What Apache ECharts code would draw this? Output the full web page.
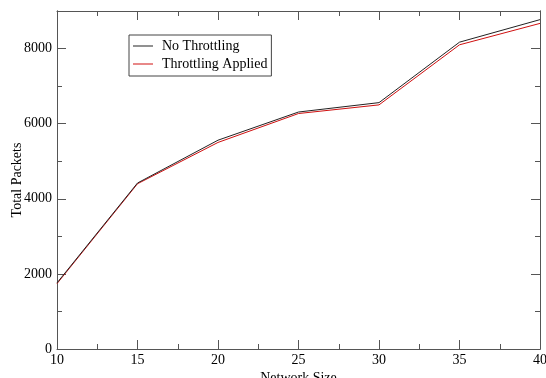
<!DOCTYPE html>
<html>
<head>
<meta charset="utf-8">
<script src="https://cdn.jsdelivr.net/npm/echarts@6/dist/echarts.min.js"></script>
<style>html,body{margin:0;padding:0;background:#fff}#c{width:546px;height:378px}</style>
</head>
<body>
<div id="c"></div>
<script>
var networkSize = [10, 15, 20, 25, 30, 35, 40];
var noThrottling = [1760, 4420, 5560, 6310, 6560, 8170, 8770];
var throttlingApplied = [1740, 4400, 5500, 6270, 6500, 8100, 8670];
var seriesNames = ['No Throttling', 'Throttling Applied'];

var font = 'Liberation Serif, Times New Roman, serif';
var axisCol = '#555';
function pairs(xs, ys){ return xs.map(function(x,i){ return [x, ys[i]]; }); }

function yAx(pos, interval, len, labels){
  return {
    type:'value', position:pos, offset:0, min:0, max:9000, interval:interval,
    axisLine:{show:true, onZero:false, lineStyle:{color:axisCol, width:1}},
    axisTick:{show:true, inside:true, length:len, lineStyle:{color:axisCol}},
    axisLabel: labels ? {show:true, margin:5, color:'#000', fontFamily:font, fontSize:14,
      formatter:function(v){ return v % 2000 === 0 ? String(v) : ''; }} : {show:false},
    splitLine:{show:false}
  };
}
function xAx(pos, labels){
  return {
    type:'value', position:pos, offset:0, min:10, max:40, interval:5,
    axisLine:{show:true, onZero:false, lineStyle:{color:axisCol, width:1}},
    axisTick:{show:true, inside:true, length:9, lineStyle:{color:axisCol}},
    minorTick:{show:true, splitNumber:2, length:5, lineStyle:{color:axisCol}},
    axisLabel: labels ? {show:true, margin:4, color:'#000', fontFamily:font, fontSize:14} : {show:false},
    splitLine:{show:false}, minorSplitLine:{show:false}
  };
}
var x0 = xAx('bottom', true);
x0.name = 'Network Size'; x0.nameLocation = 'middle'; x0.nameGap = 22; x0.nameMoveOverlap = false;
x0.nameTextStyle = {color:'#000', fontFamily:font, fontSize:14};
var y0 = yAx('left', 2000, 9, true);
y0.name = 'Total Packets'; y0.nameLocation = 'middle'; y0.nameGap = 33; y0.nameMoveOverlap = false;
y0.nameTextStyle = {color:'#000', fontFamily:font, fontSize:14};

var chart = echarts.init(document.getElementById('c'), null, {renderer:'canvas'});
chart.setOption({
  animation:false,
  backgroundColor:'#fff',
  grid:{left:57, right:6, top:11, bottom:29, containLabel:false, outerBoundsMode:'none'},
  legend:{
    left:129, top:35, orient:'vertical',
    data:seriesNames,
    icon:'rect', itemWidth:20, itemHeight:1, itemGap:4,
    padding:[4,4,5,4],
    borderColor:'#444', borderWidth:1, borderRadius:0,
    textStyle:{color:'#000', fontFamily:font, fontSize:14, padding:[0,0,0,4]}
  },
  xAxis:[x0, xAx('top', false)],
  yAxis:[y0, yAx('left',1000,5,false), yAx('right',2000,9,false), yAx('right',1000,5,false)],
  series:[
    {name:seriesNames[0], type:'line', xAxisIndex:0, yAxisIndex:0, data:pairs(networkSize,noThrottling),
     showSymbol:false, symbol:'none', lineStyle:{color:'#222', width:1}, itemStyle:{color:'#222'}, z:3},
    {name:seriesNames[1], type:'line', xAxisIndex:0, yAxisIndex:0, data:pairs(networkSize,throttlingApplied),
     showSymbol:false, symbol:'none', lineStyle:{color:'#d01010', width:1}, itemStyle:{color:'#d01010'}, z:2}
  ]
});
</script>
</body>
</html>
